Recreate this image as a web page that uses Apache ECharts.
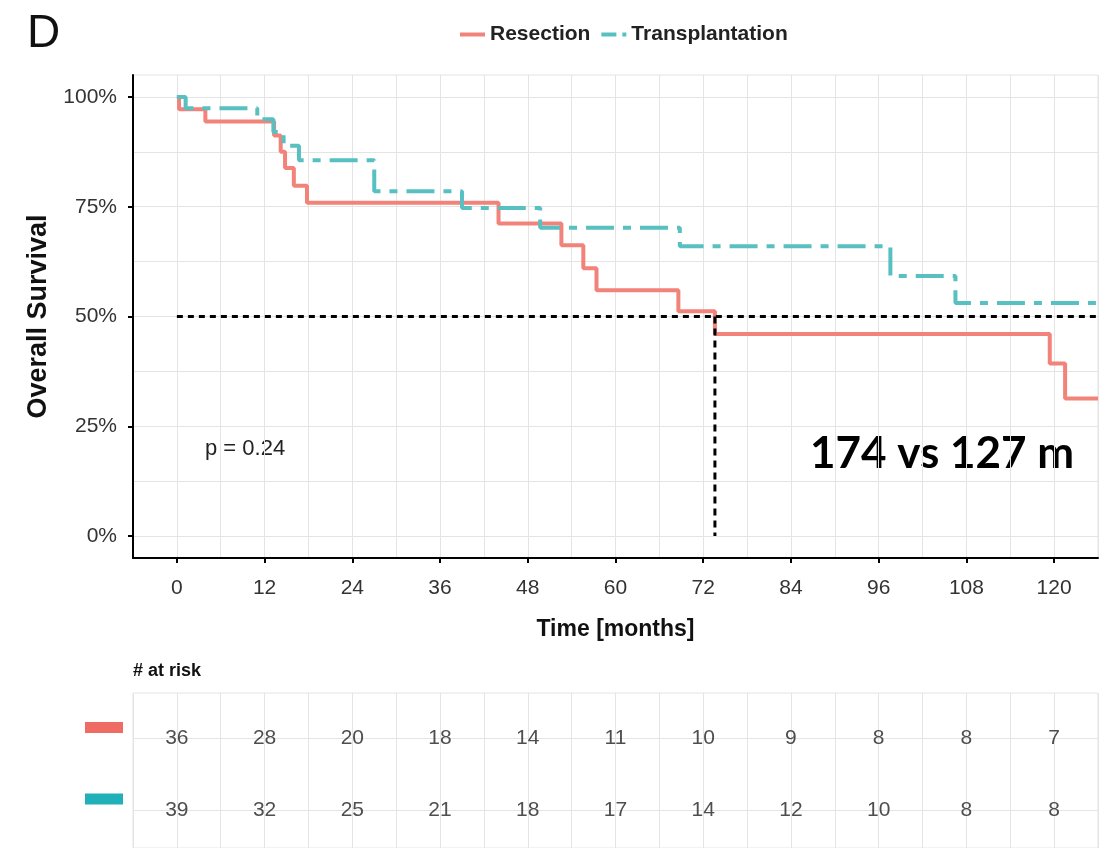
<!DOCTYPE html>
<html><head><meta charset="utf-8">
<script src="https://cdn.jsdelivr.net/npm/echarts@6/dist/echarts.min.js"></script>
<style>html,body{margin:0;padding:0;background:#fff}#c{width:1104px;height:848px}</style>
</head><body><div id="c"></div>
<script>
// ---- data ----
const resectionTime = [0, 0.3, 3.9, 13.3, 14.2, 14.8, 16.0, 17.8, 44.0, 52.6, 55.6, 57.4, 68.6, 73.6, 119.4, 121.5, 126];
const resectionSurv = [100, 97.2, 94.4, 91.2, 87.5, 83.8, 79.8, 75.9, 71.2, 66.2, 61.0, 56.0, 51.2, 46.0, 39.3, 31.3, 31.3];
const transplantTime = [0, 1.2, 11.0, 13.2, 14.6, 16.7, 27.0, 39.0, 49.7, 68.8, 97.6, 106.5, 126];
const transplantSurv = [100, 97.4, 94.9, 92.0, 88.9, 85.6, 78.5, 74.7, 70.2, 66.0, 59.2, 53.1, 53.1];
const riskTimes = [0, 12, 24, 36, 48, 60, 72, 84, 96, 108, 120];
const riskResection = [36, 28, 20, 18, 14, 11, 10, 9, 8, 8, 7];
const riskTransplant = [39, 32, 25, 21, 18, 17, 14, 12, 10, 8, 8];
const yTicks = [0, 25, 50, 75, 100];
const yGridVals = [0, 12.5, 25, 37.5, 50, 62.5, 75, 87.5, 100];
const medianLevel = 50;
const medianResection = 73.6;
const groupNames = ['Resection', 'Transplantation'];
const xMin = -6, xMax = 126, yMin = -5, yMax = 105;

const RED = '#F2837A', TEAL = '#58C0C1';
const RED_KEY = '#EE6C64', TEAL_KEY = '#1FB1B7';
const FONT = "'Liberation Sans', Arial, sans-serif";
const GRIDC = '#E4E4E4';

const zip = (a, b) => a.map((v, i) => [v, b[i]]);
const riskData = [];
riskTimes.forEach((t, i) => { riskData.push([t, 1, riskResection[i]]); });
riskTimes.forEach((t, i) => { riskData.push([t, 2, riskTransplant[i]]); });

const chart = echarts.init(document.getElementById('c'), null, {renderer: 'canvas'});
chart.setOption({
  animation: false,
  backgroundColor: '#fff',
  textStyle: {fontFamily: FONT},
  grid: [
    {left: 133, right: 6, top: 75, bottom: 290, show: true, borderColor: GRIDC, borderWidth: 1, backgroundColor: '#fff'},
    {left: 133, right: 6, top: 693, bottom: 0, show: true, borderColor: GRIDC, borderWidth: 1, backgroundColor: '#fff'}
  ],
  legend: {
    data: [
      {name: groupNames[0]},
      {name: groupNames[1], lineStyle: {type: [15, 6, 4, 6]}}
    ],
    left: 453, top: 19, itemWidth: 25, itemHeight: 12, itemGap: 9,
    itemStyle: {opacity: 0},
    lineStyle: {width: 4},
    textStyle: {fontFamily: FONT, fontSize: 21, fontWeight: 'bold', color: '#222'}
  },
  xAxis: [
    {gridIndex: 0, type: 'value', min: xMin, max: xMax, interval: 6,
     axisLine: {show: false}, axisTick: {show: false}, axisLabel: {show: false},
     splitLine: {show: true, lineStyle: {color: GRIDC, width: 1}}},
    {gridIndex: 0, type: 'value', min: xMin, max: xMax, position: 'bottom',
     axisLine: {show: true, onZero: false, lineStyle: {color: '#000', width: 2}},
     axisTick: {show: true, customValues: riskTimes, length: 5, lineStyle: {color: '#000', width: 2}},
     axisLabel: {customValues: riskTimes, margin: 20, fontSize: 21, color: '#333', fontFamily: FONT},
     splitLine: {show: false},
     name: 'Time [months]', nameLocation: 'middle', nameGap: 60,
     nameTextStyle: {fontSize: 23, fontWeight: 'bold', color: '#111', fontFamily: FONT}},
    {gridIndex: 1, type: 'value', min: xMin, max: xMax, interval: 6,
     axisLine: {show: false}, axisTick: {show: false}, axisLabel: {show: false},
     splitLine: {show: true, lineStyle: {color: GRIDC, width: 1}}}
  ],
  yAxis: [
    {gridIndex: 0, type: 'value', min: yMin, max: yMax,
     axisLine: {show: false}, axisTick: {show: false, customValues: yGridVals}, axisLabel: {show: false},
     splitLine: {show: true, lineStyle: {color: GRIDC, width: 1}}},
    {gridIndex: 0, type: 'value', min: yMin, max: yMax, position: 'left', offset: 0,
     axisLine: {show: true, onZero: false, lineStyle: {color: '#000', width: 2}},
     axisTick: {show: true, customValues: yTicks, length: 5, lineStyle: {color: '#000', width: 2}},
     axisLabel: {customValues: yTicks, formatter: '{value}%', margin: 16, fontSize: 21, color: '#333', fontFamily: FONT},
     splitLine: {show: false},
     name: 'Overall Survival', nameLocation: 'middle', nameGap: 75,
     nameTextStyle: {fontSize: 27, fontWeight: 'bold', color: '#111', fontFamily: FONT}},
    {gridIndex: 1, type: 'value', min: 0.364, max: 2.53, inverse: true,
     axisLine: {show: false}, axisTick: {show: false, customValues: [1, 2]},
     axisLabel: {customValues: [1, 2], margin: 10, padding: [0, 0, 22, 0],
       formatter: v => (v === 1 ? '{r|}' : '{t|}'),
       rich: {r: {backgroundColor: RED_KEY, width: 38, height: 11},
              t: {backgroundColor: TEAL_KEY, width: 38, height: 11}}},
     splitLine: {show: true, lineStyle: {color: GRIDC, width: 1}}}
  ],
  series: [
    {name: groupNames[0], type: 'line', xAxisIndex: 0, yAxisIndex: 0, step: 'end', symbol: 'none',
     data: zip(resectionTime, resectionSurv), color: RED,
     lineStyle: {color: RED, width: 4}, z: 3},
    {name: groupNames[1], type: 'line', xAxisIndex: 0, yAxisIndex: 0, step: 'end', symbol: 'none',
     data: zip(transplantTime, transplantSurv), color: TEAL,
     lineStyle: {color: TEAL, width: 4, type: [28, 9, 8, 9]}, z: 4},
    {name: 'medianH', type: 'line', xAxisIndex: 0, yAxisIndex: 0, symbol: 'none', silent: true,
     data: [[0, medianLevel], [xMax, medianLevel]],
     lineStyle: {color: '#000', width: 3, type: [6, 5]}, z: 5},
    {name: 'medianV', type: 'line', xAxisIndex: 0, yAxisIndex: 0, symbol: 'none', silent: true,
     data: [[medianResection, medianLevel], [medianResection, 0]],
     lineStyle: {color: '#000', width: 3, type: [7, 5]}, z: 5},
    {name: 'risk', type: 'scatter', xAxisIndex: 2, yAxisIndex: 2, symbolSize: 1,
     itemStyle: {color: 'rgba(0,0,0,0)'}, data: riskData,
     label: {show: true, position: 'inside', formatter: p => String(p.value[2]),
             fontSize: 21, color: '#222', fontFamily: FONT}}
  ],
  graphic: [
    {type: 'text', left: 27, top: 11, style: {text: 'D', font: "normal 46px 'Liberation Sans', Arial, sans-serif", fill: '#111'}},
    {type: 'text', left: 133, top: 662, style: {text: '# at risk', font: "bold 18px 'Liberation Sans', Arial, sans-serif", fill: '#111'}},
    {type: 'text', left: 205, top: 438, style: {text: 'p = 0.24', font: "normal 22px 'Liberation Sans', Arial, sans-serif", fill: '#222'}},
    {type: 'text', left: 810, top: 432, style: {text: '174 vs 127 m', font: "bold 44px Lato, 'Liberation Sans', sans-serif", fill: '#000'}}
  ]
});
</script>
</body></html>
